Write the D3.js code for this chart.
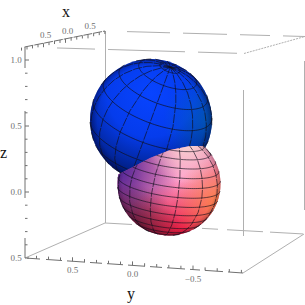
<!DOCTYPE html>
<html>
<head>
<meta charset="utf-8">
<script src="https://cdnjs.cloudflare.com/ajax/libs/d3/7.8.5/d3.min.js"></script>
<style>
  html, body { margin: 0; padding: 0; background: #fff; }
  svg { display: block; }
  text { font-family: "Liberation Serif", serif; }
</style>
</head>
<body>
<div id="chart"></div>
<script>
// axis values
var zMajor = [1.0, 0.5, 0.0, -0.5];
var zLabels = ["1.0", "0.5", "0.0", "0.5"];
var yMajor = [0.5, 0.0, -0.5];
var yLabels = ["0.5", "0.0", "\u22120.5"];
var xMajor = [0.5, 0.0, -0.5];
var xLabels = ["0.5", "0.0", "0.5"];

// sphere orientation and mesh spacing
var blueRotate = [0, -23, -20];
var pinkRotate = [12, -14, -8];
var blueStep = [24, 20];
var pinkStep = [30, 11];

var svgWidth = 305;
var svgHeight = 305;

var svg = d3.select("#chart")
  .append("svg")
  .attr("width", svgWidth)
  .attr("height", svgHeight);

var defs = svg.append("defs");

function gradient(id, cx, cy, r, stops) {
  var g = defs.append("radialGradient")
    .attr("id", id)
    .attr("cx", cx).attr("cy", cy).attr("r", r);
  stops.forEach(function(s) {
    g.append("stop")
      .attr("offset", s[0])
      .attr("stop-color", s[1])
      .attr("stop-opacity", s[2] === undefined ? 1 : s[2]);
  });
}

gradient("blueBase", 0.5, 0.28, 0.8, [[0, "#0844ff"], [0.45, "#053cec"], [0.72, "#0228a4"], [1, "#000f50"]]);
gradient("blueRight", 1.0, 0.5, 0.4, [[0, "#0070b0", 0.6], [1, "#0070b0", 0]]);
gradient("blueRim", 0.5, 0.5, 0.5, [[0.88, "#000030", 0], [1, "#000030", 0.4]]);

gradient("pinkBase", 0.62, 0.42, 0.72, [[0, "#ffa0cc"], [0.5, "#f07cac"], [1, "#a82c60"]]);
gradient("pinkLeft", 0.0, 0.35, 0.6, [[0, "#5028a0", 1], [1, "#5028a0", 0]]);
gradient("pinkBottom", 0.6, 1.05, 0.58, [[0, "#f01030", 0.95], [1, "#f01030", 0]]);
gradient("pinkDark", 0.12, 1.0, 0.5, [[0, "#300818", 0.8], [1, "#300818", 0]]);
gradient("pinkOrange", 1.0, 0.68, 0.45, [[0, "#ff8038", 0.9], [1, "#ff8038", 0]]);
gradient("pinkTop", 0.68, 0.08, 0.42, [[0, "#f8e0d8", 0.95], [1, "#f8e0d8", 0]]);
gradient("pinkRim", 0.5, 0.5, 0.5, [[0.9, "#200010", 0], [1, "#200010", 0.25]]);

// box corners on screen
var corner = {
  topFront: [24.5, 47], topBack: [105, 31], topRight: [305, 36.5], topMid: [244, 53.5],
  botFront: [25, 258], botBack: [105, 223], botRight: [304, 234], botMid: [243, 273]
};

function along(a, b) {
  return d3.scaleLinear().domain([a[0], b[0]]).range([a[1], b[1]]);
}

var boxGroup = svg.append("g")
  .attr("stroke", "#b0b0b0")
  .attr("stroke-width", 1)
  .attr("fill", "none");

// horizontal-ish edges, drawn in broken pieces like the original
function hEdge(a, b, pieces) {
  var f = along(a, b);
  pieces.forEach(function(p) {
    boxGroup.append("line")
      .attr("x1", p[0]).attr("y1", f(p[0]))
      .attr("x2", p[1]).attr("y2", f(p[1]));
  });
}
function vEdge(x, pieces) {
  pieces.forEach(function(p) {
    boxGroup.append("line")
      .attr("x1", x).attr("y1", p[0])
      .attr("x2", x).attr("y2", p[1]);
  });
}

hEdge(corner.topBack, corner.topRight, [[127, 170], [183, 227], [240, 270], [283, 305]]);
hEdge(corner.topFront, corner.topMid, [[57, 95], [108, 185], [198, 237]]);
hEdge(corner.botBack, corner.botRight, [[105, 132], [202, 218], [227, 263], [270, 303]]);
vEdge(105.5, [[31, 80], [120, 223]]);
vEdge(243.5, [[90, 236]]);
vEdge(304.5, [[61, 210]]);

boxGroup.append("line")
  .attr("x1", corner.topMid[0]).attr("y1", corner.topMid[1])
  .attr("x2", corner.topRight[0]).attr("y2", corner.topRight[1])
  .attr("stroke-dasharray", "2 1");
boxGroup.append("line")
  .attr("x1", corner.botFront[0]).attr("y1", corner.botFront[1])
  .attr("x2", corner.botBack[0]).attr("y2", corner.botBack[1]);
boxGroup.append("line")
  .attr("x1", corner.botMid[0]).attr("y1", corner.botMid[1])
  .attr("x2", corner.botRight[0]).attr("y2", corner.botRight[1]);

// axes
var axisGroup = svg.append("g")
  .attr("stroke", "#707070")
  .attr("stroke-width", 1)
  .attr("fill", "none");
var labelGroup = svg.append("g")
  .attr("font-size", 9)
  .attr("fill", "#707070")
  .attr("text-anchor", "middle");

function minorTicks(lo, hi, step) {
  var n = Math.round((hi - lo) / step);
  return d3.range(n + 1).map(function(i) { return lo + i * step; });
}

// z axis
var zScale = d3.scaleLinear().domain([-0.5, 1.0]).range([258, 60]);
[[47, 68], [111, 198], [238, 258]].forEach(function(p) {
  axisGroup.append("line").attr("x1", 25).attr("x2", 25).attr("y1", p[0]).attr("y2", p[1]);
});
minorTicks(-0.5, 1.0, 0.1).forEach(function(v) {
  var major = zMajor.some(function(m) { return Math.abs(m - v) < 1e-6; });
  axisGroup.append("line")
    .attr("x1", 25).attr("x2", major ? 29 : 27.5)
    .attr("y1", zScale(v)).attr("y2", zScale(v));
});
zMajor.forEach(function(v, i) {
  labelGroup.append("text")
    .attr("x", 16).attr("y", zScale(v) + 3)
    .text(zLabels[i]);
});

// y axis, along the front bottom edge
var yScale = d3.scaleLinear().domain([0.5, 0.0, -0.5]).range([72.5, 132.5, 193]);
var yEdge = along(corner.botFront, corner.botMid);
[[27, 40], [46, 62], [67, 85], [90, 102], [107, 123], [128, 145], [150, 162], [167, 185], [190, 200], [205, 223], [228, 243]].forEach(function(p) {
  axisGroup.append("line")
    .attr("x1", p[0]).attr("y1", yEdge(p[0]))
    .attr("x2", p[1]).attr("y2", yEdge(p[1]));
});
minorTicks(-0.9, 0.8, 0.1).forEach(function(v) {
  var x = yScale(v);
  var major = yMajor.some(function(m) { return Math.abs(m - v) < 1e-6; });
  axisGroup.append("line")
    .attr("x1", x).attr("x2", x)
    .attr("y1", yEdge(x)).attr("y2", yEdge(x) - (major ? 4 : 3));
});
yMajor.forEach(function(v, i) {
  var x = yScale(v);
  labelGroup.append("text")
    .attr("x", x).attr("y", yEdge(x) + 12)
    .text(yLabels[i]);
});

// x axis, along the top edge
var xScale = d3.scaleLinear().domain([0.5, 0.0, -0.5]).range([43.5, 65.5, 88]);
var xEdge = along(corner.topFront, corner.topBack);
axisGroup.append("line")
  .attr("x1", corner.topFront[0]).attr("y1", corner.topFront[1])
  .attr("x2", corner.topBack[0]).attr("y2", corner.topBack[1])
  .attr("stroke-dasharray", "9 1");
minorTicks(-0.875, 1.0, 0.125).forEach(function(v) {
  var x = xScale(v);
  var major = xMajor.some(function(m) { return Math.abs(m - v) < 1e-6; });
  axisGroup.append("line")
    .attr("x1", x).attr("x2", x)
    .attr("y1", xEdge(x)).attr("y2", xEdge(x) + (major ? 4 : 3));
});
xMajor.forEach(function(v, i) {
  labelGroup.append("text")
    .attr("x", xScale(v) + 2).attr("y", xEdge(xScale(v)) - 5)
    .text(xLabels[i]);
});

// axis titles
var titles = svg.append("g").attr("font-size", 16).attr("fill", "#111").attr("text-anchor", "middle");
titles.append("text").attr("x", 66).attr("y", 17).text("x");
titles.append("text").attr("x", 3.5).attr("y", 158).text("z");
titles.append("text").attr("x", 131).attr("y", 299).text("y");

function drawSphere(parent, cx, cy, r, rotate, step, layers, meshOpacity) {
  var projection = d3.geoOrthographic()
    .scale(r)
    .translate([cx, cy])
    .rotate(rotate)
    .clipAngle(90)
    .precision(0.5);
  var path = d3.geoPath(projection);
  layers.forEach(function(id) {
    parent.append("circle")
      .attr("cx", cx).attr("cy", cy).attr("r", r)
      .attr("fill", "url(#" + id + ")");
  });
  var graticule = d3.geoGraticule()
    .extent([[-180, -90], [180.01, 90.01]])
    .step(step);
  graticule.lines().forEach(function(line) {
    var isMeridian = line.coordinates[0][0] === line.coordinates[1][0];
    parent.append("path")
      .datum(line)
      .attr("d", path)
      .attr("fill", "none")
      .attr("stroke", "#10101c")
      .attr("stroke-opacity", meshOpacity)
      .attr("stroke-width", 0.8)
      .attr("stroke-dasharray", isMeridian ? "9 1" : null);
  });
}

var blue = svg.append("g");
drawSphere(blue, 151, 120, 61, blueRotate, blueStep, ["blueBase", "blueRight", "blueRim"], 0.85);

// the pink sphere only shows below the curve where the two spheres meet
var seam = [[108, 179], [119, 174], [133, 167], [150, 158], [170, 150], [190, 146], [203, 146], [212, 150], [226, 160], [240, 245], [100, 245]];
defs.append("clipPath")
  .attr("id", "pinkClip")
  .append("path")
  .attr("d", d3.line().curve(d3.curveLinear)(seam) + "Z");

var pink = svg.append("g").attr("clip-path", "url(#pinkClip)");
drawSphere(pink, 169, 184, 51.5, pinkRotate, pinkStep,
  ["pinkBase", "pinkLeft", "pinkBottom", "pinkDark", "pinkOrange", "pinkTop", "pinkRim"], 0.8);
</script>
</body>
</html>
